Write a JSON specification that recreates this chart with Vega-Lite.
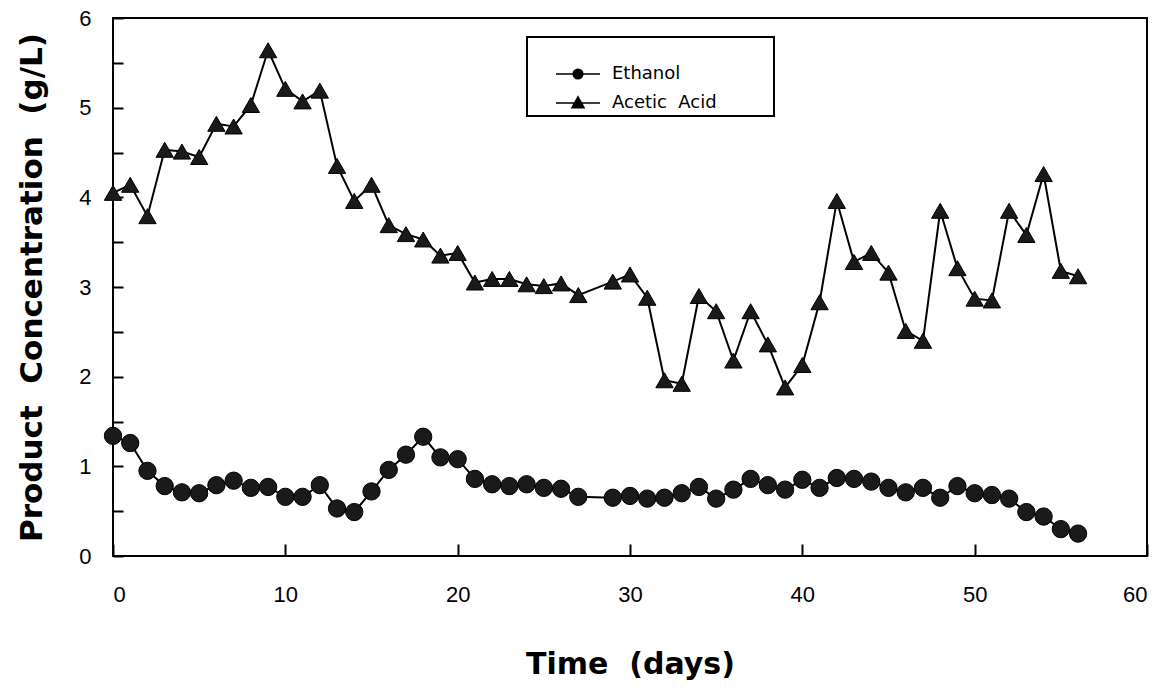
{
  "$schema": "https://vega.github.io/schema/vega-lite/v6.json",
  "width": 1034,
  "height": 538,
  "autosize": {"type": "none"},
  "padding": {"left": 113, "top": 18, "right": 24, "bottom": 132},
  "background": "white",
  "config": {
    "view": {"stroke": "black", "strokeWidth": 2},
    "legend": {"strokeWidth": 2},
    "axis": {
      "domain": false,
      "tickColor": "black", "tickWidth": 2, "tickOpacity": 1,
      "labelFont": "Liberation Sans", "labelFontSize": 22, "labelColor": "black",
      "titleFont": "DejaVu Sans", "titleFontWeight": "bold", "titleFontSize": 30, "titleColor": "black",
      "grid": false
    }
  },
  "data": {"values": [
    {"day":0,"series":"Ethanol","value":1.34},{"day":1,"series":"Ethanol","value":1.26},{"day":2,"series":"Ethanol","value":0.95},{"day":3,"series":"Ethanol","value":0.78},{"day":4,"series":"Ethanol","value":0.71},{"day":5,"series":"Ethanol","value":0.70},{"day":6,"series":"Ethanol","value":0.79},{"day":7,"series":"Ethanol","value":0.84},{"day":8,"series":"Ethanol","value":0.76},{"day":9,"series":"Ethanol","value":0.77},{"day":10,"series":"Ethanol","value":0.66},{"day":11,"series":"Ethanol","value":0.66},{"day":12,"series":"Ethanol","value":0.79},{"day":13,"series":"Ethanol","value":0.53},{"day":14,"series":"Ethanol","value":0.49},{"day":15,"series":"Ethanol","value":0.72},{"day":16,"series":"Ethanol","value":0.96},{"day":17,"series":"Ethanol","value":1.13},{"day":18,"series":"Ethanol","value":1.33},{"day":19,"series":"Ethanol","value":1.10},{"day":20,"series":"Ethanol","value":1.08},{"day":21,"series":"Ethanol","value":0.86},{"day":22,"series":"Ethanol","value":0.80},{"day":23,"series":"Ethanol","value":0.78},{"day":24,"series":"Ethanol","value":0.80},{"day":25,"series":"Ethanol","value":0.76},{"day":26,"series":"Ethanol","value":0.75},{"day":27,"series":"Ethanol","value":0.66},{"day":29,"series":"Ethanol","value":0.65},{"day":30,"series":"Ethanol","value":0.67},{"day":31,"series":"Ethanol","value":0.64},{"day":32,"series":"Ethanol","value":0.65},{"day":33,"series":"Ethanol","value":0.70},{"day":34,"series":"Ethanol","value":0.77},{"day":35,"series":"Ethanol","value":0.64},{"day":36,"series":"Ethanol","value":0.74},{"day":37,"series":"Ethanol","value":0.86},{"day":38,"series":"Ethanol","value":0.79},{"day":39,"series":"Ethanol","value":0.74},{"day":40,"series":"Ethanol","value":0.85},{"day":41,"series":"Ethanol","value":0.76},{"day":42,"series":"Ethanol","value":0.87},{"day":43,"series":"Ethanol","value":0.86},{"day":44,"series":"Ethanol","value":0.83},{"day":45,"series":"Ethanol","value":0.76},{"day":46,"series":"Ethanol","value":0.71},{"day":47,"series":"Ethanol","value":0.76},{"day":48,"series":"Ethanol","value":0.65},{"day":49,"series":"Ethanol","value":0.78},{"day":50,"series":"Ethanol","value":0.70},{"day":51,"series":"Ethanol","value":0.68},{"day":52,"series":"Ethanol","value":0.64},{"day":53,"series":"Ethanol","value":0.49},{"day":54,"series":"Ethanol","value":0.44},{"day":55,"series":"Ethanol","value":0.30},{"day":56,"series":"Ethanol","value":0.25},
    {"day":0,"series":"Acetic Acid","value":4.05},{"day":1,"series":"Acetic Acid","value":4.14},{"day":2,"series":"Acetic Acid","value":3.79},{"day":3,"series":"Acetic Acid","value":4.53},{"day":4,"series":"Acetic Acid","value":4.51},{"day":5,"series":"Acetic Acid","value":4.45},{"day":6,"series":"Acetic Acid","value":4.82},{"day":7,"series":"Acetic Acid","value":4.79},{"day":8,"series":"Acetic Acid","value":5.03},{"day":9,"series":"Acetic Acid","value":5.64},{"day":10,"series":"Acetic Acid","value":5.21},{"day":11,"series":"Acetic Acid","value":5.07},{"day":12,"series":"Acetic Acid","value":5.19},{"day":13,"series":"Acetic Acid","value":4.35},{"day":14,"series":"Acetic Acid","value":3.96},{"day":15,"series":"Acetic Acid","value":4.14},{"day":16,"series":"Acetic Acid","value":3.69},{"day":17,"series":"Acetic Acid","value":3.59},{"day":18,"series":"Acetic Acid","value":3.53},{"day":19,"series":"Acetic Acid","value":3.35},{"day":20,"series":"Acetic Acid","value":3.38},{"day":21,"series":"Acetic Acid","value":3.05},{"day":22,"series":"Acetic Acid","value":3.09},{"day":23,"series":"Acetic Acid","value":3.09},{"day":24,"series":"Acetic Acid","value":3.03},{"day":25,"series":"Acetic Acid","value":3.01},{"day":26,"series":"Acetic Acid","value":3.04},{"day":27,"series":"Acetic Acid","value":2.91},{"day":29,"series":"Acetic Acid","value":3.06},{"day":30,"series":"Acetic Acid","value":3.14},{"day":31,"series":"Acetic Acid","value":2.88},{"day":32,"series":"Acetic Acid","value":1.96},{"day":33,"series":"Acetic Acid","value":1.92},{"day":34,"series":"Acetic Acid","value":2.90},{"day":35,"series":"Acetic Acid","value":2.73},{"day":36,"series":"Acetic Acid","value":2.18},{"day":37,"series":"Acetic Acid","value":2.73},{"day":38,"series":"Acetic Acid","value":2.36},{"day":39,"series":"Acetic Acid","value":1.88},{"day":40,"series":"Acetic Acid","value":2.13},{"day":41,"series":"Acetic Acid","value":2.83},{"day":42,"series":"Acetic Acid","value":3.96},{"day":43,"series":"Acetic Acid","value":3.28},{"day":44,"series":"Acetic Acid","value":3.38},{"day":45,"series":"Acetic Acid","value":3.16},{"day":46,"series":"Acetic Acid","value":2.51},{"day":47,"series":"Acetic Acid","value":2.40},{"day":48,"series":"Acetic Acid","value":3.85},{"day":49,"series":"Acetic Acid","value":3.21},{"day":50,"series":"Acetic Acid","value":2.87},{"day":51,"series":"Acetic Acid","value":2.85},{"day":52,"series":"Acetic Acid","value":3.85},{"day":53,"series":"Acetic Acid","value":3.58},{"day":54,"series":"Acetic Acid","value":4.26},{"day":55,"series":"Acetic Acid","value":3.18},{"day":56,"series":"Acetic Acid","value":3.12}
  ]},
  "encoding": {
    "x": {"field": "day", "type": "quantitative",
      "scale": {"domain": [0, 60], "nice": false},
      "axis": {"title": "Time\u00a0\u00a0(days)", "values": [0,10,20,30,40,50,60], "offset": -12, "tickSize": 12, "labelPadding": 28, "titlePadding": 44}},
    "y": {"field": "value", "type": "quantitative",
      "scale": {"domain": [0, 6], "nice": false},
      "axis": {"title": "Product\u00a0\u00a0Concentration\u00a0\u00a0(g/L)", "titleFontSize": 31, "values": [0,0.5,1,1.5,2,2.5,3,3.5,4,4.5,5,5.5,6], "labelExpr": "datum.value % 1 === 0 ? format(datum.value, 'd') : ''", "offset": -10, "tickSize": 10, "labelPadding": 22, "titlePadding": 30}}
  },
  "layer": [
    {"mark": {"type": "line", "color": "black", "strokeWidth": 2},
     "encoding": {"detail": {"field": "series"}}},
    {"mark": {"type": "point", "filled": false, "color": "black", "strokeWidth": 1.6, "opacity": 0},
     "encoding": {
       "shape": {"field": "series", "type": "nominal",
         "scale": {"domain": ["Ethanol", "Acetic Acid"], "range": [
           "M-2.75,0H2.75M0.6,0A0.6,0.6,0,1,1,-0.6,0A0.6,0.6,0,1,1,0.6,0ZM0.4,0A0.4,0.4,0,1,1,-0.4,0A0.4,0.4,0,1,1,0.4,0ZM0.2,0A0.2,0.2,0,1,1,-0.2,0A0.2,0.2,0,1,1,0.2,0Z",
           "M-2.75,0H2.75M0,-0.75L0.75,0.6L-0.75,0.6ZM0,-0.45L0.45,0.4L-0.45,0.4ZM0,-0.15L0.15,0.2L-0.15,0.2Z"]},
         "legend": {
           "title": " ", "titleFontSize": 16, "titlePadding": 8,
           "orient": "none", "legendX": 414, "legendY": 19,
           "strokeColor": "black", "fillColor": "white",
           "padding": 4, "symbolSize": 256, "rowPadding": 10,
           "symbolOffset": 38, "labelOffset": 25, "labelLimit": 400,
           "labelFont": "DejaVu Sans", "labelFontSize": 18, "labelColor": "black",
           "labelExpr": "(datum.label === 'Acetic Acid' ? 'Acetic\u00a0\u00a0Acid' : datum.label) + '\u2800\u2800\u2800\u2800'",
           "symbolOpacity": 1, "symbolFillColor": "black", "symbolStrokeColor": "black", "symbolStrokeWidth": 1.6
         }},
       "size": {"value": 256}
     }},
    {"transform": [{"filter": "datum.series === 'Ethanol'"}],
     "mark": {"type": "point", "shape": "circle", "filled": true, "color": "#1a1a1a", "stroke": "black", "strokeWidth": 1, "opacity": 1, "size": 300}},
    {"transform": [{"filter": "datum.series === 'Acetic Acid'"}],
     "mark": {"type": "point", "shape": "triangle-up", "filled": true, "color": "#1a1a1a", "stroke": "black", "strokeWidth": 1, "opacity": 1, "size": 300}}
  ]
}
